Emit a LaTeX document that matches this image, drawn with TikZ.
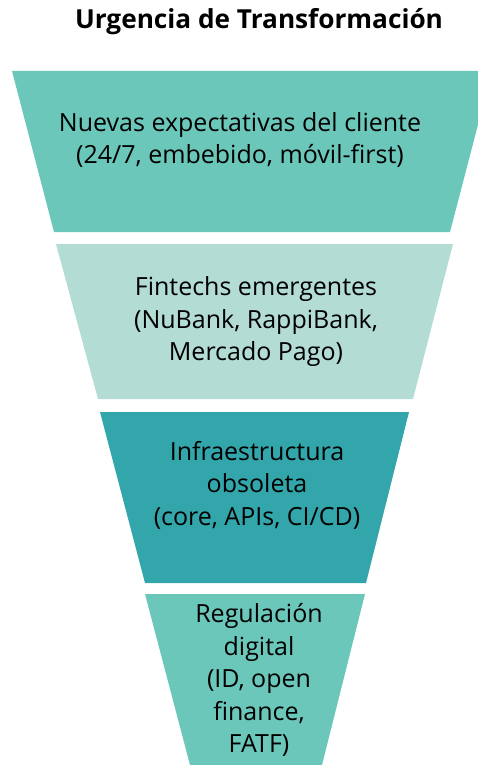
\documentclass[tikz,border=0pt]{standalone}
\usepackage{fontspec}
\setmainfont{Open Sans}
\usetikzlibrary{positioning}

\definecolor{tealmid}{HTML}{6BC7BA}
\definecolor{teallight}{HTML}{B2DCD4}
\definecolor{tealdark}{HTML}{33A6AB}

\begin{document}
\begin{tikzpicture}[x=1pt, y=-1pt, lbl/.style={align=center, font=\fontsize{25}{32.5}\selectfont, text=black}]
	\useasboundingbox (0,0) rectangle (478,765);
	\clip (0,0) rectangle (478,765);

	% Title
	\node [font=\bfseries\fontsize{26.2}{30}\selectfont] (title) at (259,22) {Urgencia de Transformación};

	% Funnel stages {s1, s2, s3, s4}
	\fill [tealmid]   (12,71)  -- (492,71)  -- (450,232) -- (54,232)  -- cycle;
	\fill [teallight] (56,244) -- (453,244) -- (413,399) -- (98,399)  -- cycle;
	\fill [tealdark]  (100,412) -- (409,412) -- (366,583) -- (145,583) -- cycle;
	\fill [tealmid]   (145,594) -- (365,594) -- (322,765) -- (190,765) -- cycle;

	% Labels
	\node [lbl] (s1) at (240,140) {Nuevas expectativas del cliente\\(24/7, embebido, móvil-first)};
	\node [lbl] (s2) at (256,322) {Fintechs emergentes\\ (NuBank, RappiBank,\\Mercado Pago)};
	\node [lbl] (s3) at (257,485) {Infraestructura\\obsoleta\\ (core, APIs, CI/CD)};
	\node [lbl] (s4) at (259,680) {Regulación\\digital\\(ID, open\\finance,\\FATF)};

\end{tikzpicture}
\end{document}
